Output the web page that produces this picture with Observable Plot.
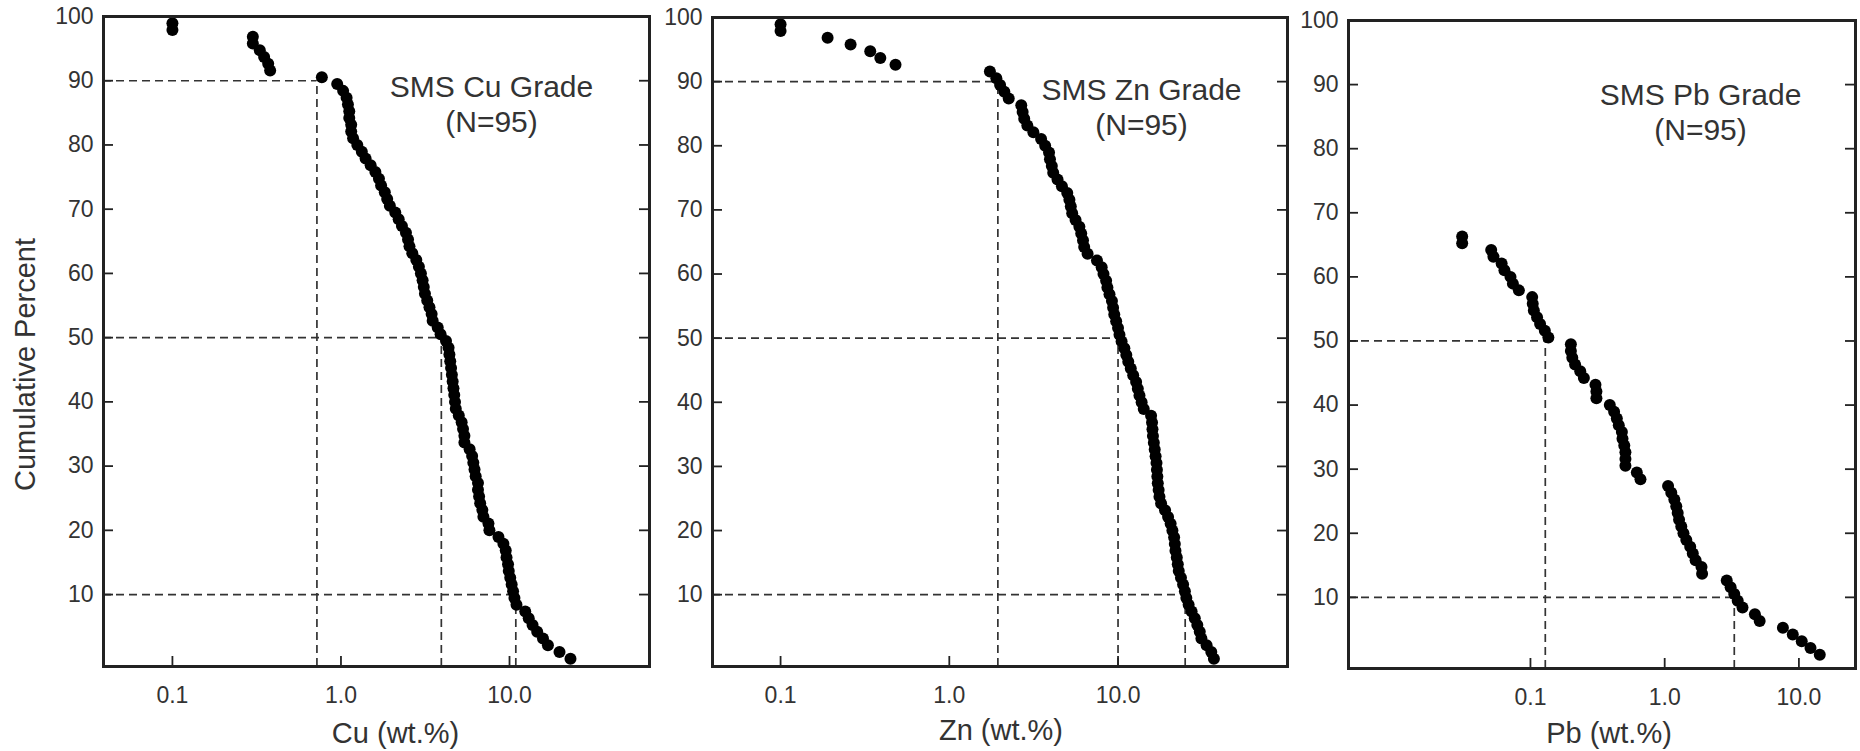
<!DOCTYPE html>
<html>
<head>
<meta charset="utf-8">
<script src="https://cdn.jsdelivr.net/npm/d3@7"></script>
<script src="https://cdn.jsdelivr.net/npm/@observablehq/plot@0.6"></script>
<style>
html, body { margin: 0; padding: 0; background: #fff; }
#charts { display: flex; width: 1860px; height: 751px; }
#charts svg { display: block; }
</style>
</head>
<body>
<div id="charts"></div>
<script>
// ---- data (grades in wt.%, ordered from highest grade = lowest cumulative percent) ----
const sampleCount = 95;
const percentTicks = [10, 20, 30, 40, 50, 60, 70, 80, 90, 100];
const gradeTicks = [0.1, 1, 10];

const cuGrade = [23, 19.8, 16.9, 15.8, 14.6, 13.7, 13.0, 12.4, 11.0, 10.7,
  10.5, 10.3, 10.1, 9.9, 9.8, 9.6, 9.5, 9.2, 8.6, 7.6,
  7.5, 7.0, 6.9, 6.7, 6.6, 6.5, 6.5, 6.3, 6.2, 6.1,
  6.0, 5.8, 5.4, 5.4, 5.3, 5.2, 5.0, 4.8, 4.75, 4.7,
  4.65, 4.6, 4.55, 4.5, 4.45, 4.4, 4.35, 4.2, 3.9, 3.75,
  3.5, 3.45, 3.35, 3.25, 3.15, 3.1, 3.05, 2.98, 2.9, 2.8,
  2.65, 2.55, 2.5, 2.43, 2.3, 2.2, 2.1, 1.95, 1.88, 1.82,
  1.73, 1.68, 1.6, 1.5, 1.4, 1.33, 1.25, 1.18, 1.15, 1.15,
  1.12, 1.12, 1.1, 1.08, 1.03, 0.95, 0.77, 0.38, 0.37, 0.35,
  0.33, 0.30, 0.30, 0.1, 0.1];

const znGrade = [37, 35.7, 33.5, 31.2, 30.5, 29.5, 28.5, 27.3, 26.2, 25.4,
  24.9, 24.3, 23.6, 22.9, 22.6, 22.3, 21.9, 21.7, 21.5, 21.0,
  20.5, 19.8, 19.0, 18.0, 17.6, 17.4, 17.2, 17.1, 17.0, 16.9,
  16.7, 16.5, 16.3, 16.1, 16.0, 15.9, 15.7, 14.2, 13.8, 13.4,
  13.1, 12.8, 12.3, 11.9, 11.5, 11.2, 10.9, 10.5, 10.2, 10.0,
  9.75, 9.5, 9.35, 9.2, 8.9, 8.65, 8.5, 8.2, 8.0, 7.5,
  6.6, 6.3, 6.2, 6.05, 5.9, 5.6, 5.35, 5.25, 5.15, 5.0,
  4.65, 4.38, 4.13, 4.05, 3.95, 3.9, 3.7, 3.5, 3.15, 2.9,
  2.78, 2.72, 2.67, 2.25, 2.12, 2.0, 1.9, 1.74, 0.48, 0.39,
  0.34, 0.26, 0.19, 0.1, 0.1];

// Pb: only the detected samples are plotted (ranks 1..63 of 95)
const pbGrade = [14.3, 12.2, 10.5, 9.0, 7.6, 5.1, 4.7, 3.8, 3.5, 3.3,
  3.1, 2.9, 1.9, 1.88, 1.7, 1.62, 1.55, 1.45, 1.38, 1.33,
  1.28, 1.25, 1.22, 1.18, 1.12, 1.06, 0.66, 0.62, 0.51, 0.51,
  0.51, 0.50, 0.485, 0.48, 0.455, 0.44, 0.42, 0.39, 0.31, 0.31,
  0.305, 0.25, 0.235, 0.215, 0.205, 0.2, 0.2, 0.136, 0.128, 0.118,
  0.112, 0.106, 0.104, 0.103, 0.082, 0.074, 0.071, 0.064, 0.061, 0.053,
  0.051, 0.031, 0.031];

// percentile markers (cumulative percent, grade)
const cuMarkers = [{pct: 90, grade: 0.72}, {pct: 50, grade: 3.94}, {pct: 10, grade: 10.9}];
const znMarkers = [{pct: 90, grade: 1.94}, {pct: 50, grade: 10.0}, {pct: 10, grade: 25.0}];
const pbMarkers = [{pct: 50, grade: 0.129}, {pct: 10, grade: 3.3}];

const panelTitles = ["SMS Cu Grade\n(N=95)", "SMS Zn Grade\n(N=95)", "SMS Pb Grade\n(N=95)"];
const xLabels = ["Cu (wt.%)", "Zn (wt.%)", "Pb (wt.%)"];
const yLabel = "Cumulative Percent";

// ---- layout ----
const FONT = "'Liberation Sans', Arial, Helvetica, sans-serif";
const panels = [
  {values: cuGrade, firstRank: 0, markers: cuMarkers, title: panelTitles[0], xLabel: xLabels[0],
   width: 680, ml: 103, mr: 31, mt: 16, mb: 85, xDomain: [0.039, 67.7], yDomain: [-1.2, 100],
   titleDx: 388, titleDy: 87, labelDx: 19, labelDy: 67, showY: true},
  {values: znGrade, firstRank: 0, markers: znMarkers, title: panelTitles[1], xLabel: xLabels[1],
   width: 630, ml: 32, mr: 23, mt: 17, mb: 85, xDomain: [0.0395, 101], yDomain: [-1.2, 100],
   titleDx: 429, titleDy: 89, labelDx: 1, labelDy: 64, showY: false},
  {values: pbGrade, firstRank: 1, markers: pbMarkers, title: panelTitles[2], xLabel: xLabels[2],
   width: 550, ml: 38, mr: 5, mt: 20, mb: 83, xDomain: [0.00441, 26.4], yDomain: [-1.1, 100],
   titleDx: 352, titleDy: 91, labelDx: 7, labelDy: 65, showY: false}
];

const H = 751;
const container = document.getElementById("charts");

for (const p of panels) {
  const pts = p.values.map((g, i) => ({grade: g, pct: 100 * (i + p.firstRank) / sampleCount}));
  const frameW = p.width - p.ml - p.mr;
  const frameH = H - p.mt - p.mb;
  const dash = {stroke: "#333", strokeWidth: 1.7, strokeDasharray: "8,5"};
  const marks = [
    // dashed percentile guides
    Plot.ruleY(p.markers, {y: "pct", x1: () => p.xDomain[0], x2: "grade", ...dash}),
    Plot.ruleX(p.markers, {x: "grade", y1: () => p.yDomain[0], y2: "pct", ...dash}),
    // inward ticks
    Plot.tickX(gradeTicks, {x: d => d, insetTop: frameH - 10, stroke: "#222", strokeWidth: 1.8}),
    Plot.tickY(percentTicks, {y: d => d, insetRight: frameW - 10, stroke: "#222", strokeWidth: 1.8}),
    Plot.tickY(percentTicks, {y: d => d, insetLeft: frameW - 10, stroke: "#222", strokeWidth: 1.8}),
    // tick labels
    Plot.axisY(percentTicks, {anchor: "left", tickSize: 0, tickPadding: 10, fontSize: 23, label: null}),
    Plot.axisX(gradeTicks, {anchor: "bottom", tickSize: 0, tickPadding: 20, fontSize: 23, label: null,
      tickFormat: d3.format(".1f")}),
    // data
    Plot.dot(pts, {x: "grade", y: "pct", r: 6, fill: "#000", stroke: null}),
    // frame
    Plot.frame({stroke: "#222", strokeWidth: 3}),
    // annotation
    Plot.text([p.title], {text: d => d, frameAnchor: "top-left", dx: p.titleDx, dy: p.titleDy,
      textAnchor: "middle", lineAnchor: "middle", lineHeight: 1.14, fontSize: 30, fill: "#333"}),
    // x axis title
    Plot.text([p.xLabel], {text: d => d, frameAnchor: "bottom", dx: p.labelDx, dy: p.labelDy,
      textAnchor: "middle", lineAnchor: "middle", fontSize: 29, fill: "#333"})
  ];
  if (p.showY) {
    marks.push(Plot.text([yLabel], {text: d => d, frameAnchor: "left", dx: -78, dy: 23, rotate: -90,
      textAnchor: "middle", lineAnchor: "middle", fontSize: 29, fill: "#333"}));
  }
  const chart = Plot.plot({
    width: p.width,
    height: H,
    marginLeft: p.ml, marginRight: p.mr, marginTop: p.mt, marginBottom: p.mb,
    x: {type: "log", domain: p.xDomain, axis: null},
    y: {domain: p.yDomain, axis: null},
    style: {fontFamily: FONT, color: "#333", background: "#fff", overflow: "visible"},
    marks
  });
  container.appendChild(chart);
}
</script>
</body>
</html>
